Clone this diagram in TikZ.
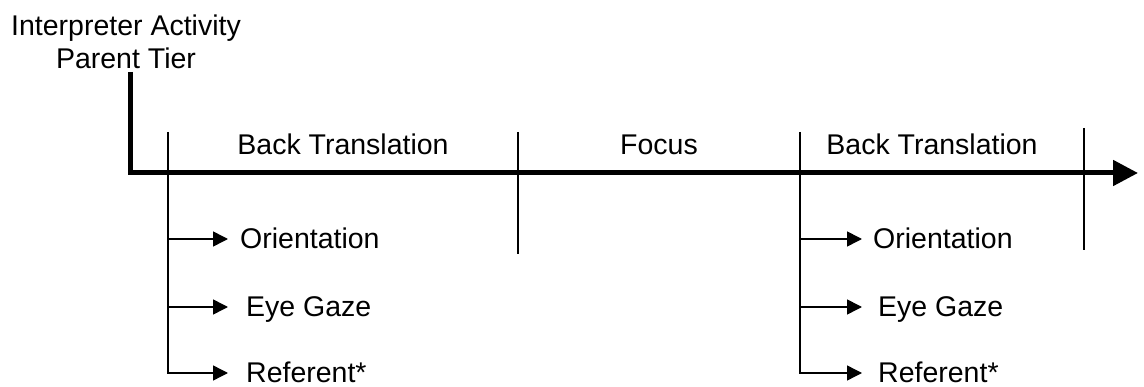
\documentclass[tikz,border=0pt]{standalone}
\usepackage{fontspec}
\setmainfont{Liberation Sans}
\usetikzlibrary{positioning,arrows.meta}

\begin{document}
\begin{tikzpicture}[x=1pt,y=-1pt,
            lbl/.style={font=\fontsize{28.5}{33}\selectfont,inner sep=0pt,text height=20pt,text depth=0pt},
            tick/.style={line width=1.1pt},
            branch/.style={-{Triangle[length=15pt,width=15pt]},line width=1.6pt},
            axis/.style={-{Triangle[length=25pt,width=25pt]},line width=5pt}]
            \useasboundingbox (0,0) rectangle (1144,387);
            \node[font=\fontsize{28.5}{33}\selectfont,inner sep=0pt,align=center,anchor=north] (tier) at (126,15) {Interpreter Activity\\Parent Tier};
            % time axis
            \coordinate (top) at (130,72);
            \coordinate (tip) at (1138,173);
            \draw[axis] (top) |- (tip);
            % segments
            \coordinate (s1) at (168,132);
            \coordinate (s2) at (518,132);
            \coordinate (s3) at (800,132);
            \coordinate (s4) at (1084,128);
            \coordinate (e2) at (518,254);
            \coordinate (e4) at (1084,250);
            \draw[tick] (s2)--(e2);
            \draw[tick] (s4)--(e4);
            \node[lbl] (bt1) at (343,145) {Back Translation};
            \node[lbl] (fc) at (659,145) {Focus};
            \node[lbl] (bt2) at (932,145) {Back Translation};
            % first back translation
            \coordinate (a1) at (228,239);
            \coordinate (a2) at (228,307);
            \coordinate (a3) at (228,373);
            \node[lbl,right=12pt of a1] (or1) {Orientation};
            \node[lbl,right=18pt of a2] (eg1) {Eye Gaze};
            \node[lbl,right=18pt of a3] (rf1) {Referent*};
            \draw[branch] (s1 |- a1)--(a1);
            \draw[branch] (s1 |- a2)--(a2);
            \draw[branch,line width=1.4pt] (s1) |- (a3);
            % second back translation
            \coordinate (b1) at (862,239);
            \coordinate (b2) at (862,307);
            \coordinate (b3) at (862,373);
            \node[lbl,right=11pt of b1] (or2) {Orientation};
            \node[lbl,right=16pt of b2] (eg2) {Eye Gaze};
            \node[lbl,right=16pt of b3] (rf2) {Referent*};
            \draw[branch] (s3 |- b1)--(b1);
            \draw[branch] (s3 |- b2)--(b2);
            \draw[branch,line width=1.4pt] (s3) |- (b3);
        \end{tikzpicture}
\end{document}
